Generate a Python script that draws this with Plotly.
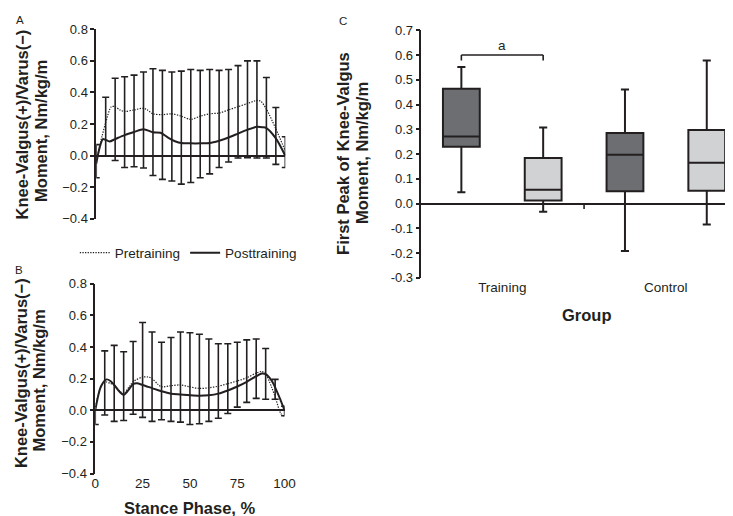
import plotly.graph_objects as go

W, H = 733, 516
INK = "#231f20"
FONT = "Liberation Sans, Arial, Helvetica, sans-serif"

# ---------------- Panel A (Training group) ----------------
a_pre_x = [0, 3, 5, 8, 10, 12.5, 15, 20, 25, 27, 30, 35, 40, 45, 50, 55, 60, 65, 70, 75, 80, 85, 87, 90, 95, 100]
a_pre_y = [-0.03, 0.12, 0.21, 0.31, 0.31, 0.29, 0.28, 0.29, 0.30, 0.29, 0.265, 0.26, 0.265, 0.25, 0.23, 0.25,
           0.265, 0.27, 0.29, 0.31, 0.33, 0.35, 0.345, 0.295, 0.17, 0.03]
a_post_x = [0, 2, 3.5, 5, 7, 10, 15, 20, 25, 30, 34, 38, 42, 45, 50, 55, 60, 65, 70, 75, 80, 85, 88, 90, 95, 100]
a_post_y = [-0.05, 0.06, 0.105, 0.10, 0.09, 0.105, 0.13, 0.15, 0.168, 0.148, 0.145, 0.115, 0.09, 0.08, 0.078,
            0.078, 0.08, 0.095, 0.115, 0.14, 0.165, 0.183, 0.18, 0.175, 0.11, 0.0]

bar_x = [0, 5, 10, 15, 20, 25, 30, 35, 40, 45, 50, 55, 60, 65, 70, 75, 80, 85, 90, 95, 100]
a_upper = [0.07, 0.37, 0.49, 0.50, 0.51, 0.53, 0.55, 0.54, 0.53, 0.535, 0.545, 0.54, 0.545, 0.54, 0.545,
           0.57, 0.60, 0.60, 0.495, 0.305, 0.12]
a_lower = [-0.14, 0.0, -0.03, -0.075, -0.07, -0.078, -0.125, -0.15, -0.16, -0.18, -0.17, -0.14, -0.115,
           -0.075, -0.04, -0.015, -0.012, -0.015, -0.015, -0.055, -0.075]

# ---------------- Panel B (Control group) ----------------
b_pre_x = [0, 3, 5, 8, 10, 13, 15, 18, 20, 25, 28, 30, 33, 35, 40, 45, 50, 55, 60, 65, 70, 75, 80, 85, 88, 90,
           93, 95, 98, 100]
b_pre_y = [0.02, 0.15, 0.18, 0.17, 0.16, 0.12, 0.105, 0.15, 0.18, 0.21, 0.21, 0.20, 0.165, 0.148, 0.155, 0.16,
           0.148, 0.138, 0.142, 0.152, 0.168, 0.185, 0.205, 0.235, 0.245, 0.23, 0.15, 0.085, -0.02, -0.04]
b_post_x = [0, 3, 6, 8, 10, 13, 15, 17, 20, 22, 25, 30, 35, 40, 45, 50, 55, 60, 65, 70, 75, 80, 85, 88, 90, 93,
            95, 98, 100]
b_post_y = [0.0, 0.15, 0.195, 0.185, 0.16, 0.115, 0.097, 0.12, 0.165, 0.17, 0.16, 0.14, 0.12, 0.105, 0.10,
            0.095, 0.092, 0.095, 0.105, 0.125, 0.15, 0.18, 0.215, 0.232, 0.228, 0.19, 0.145, 0.06, 0.0]
b_upper = [0.0, 0.375, 0.41, 0.37, 0.435, 0.555, 0.495, 0.43, 0.46, 0.495, 0.49, 0.48, 0.45, 0.42, 0.42,
           0.43, 0.445, 0.45, 0.39, 0.195, 0.025]
b_lower = [-0.09, -0.03, -0.07, -0.065, -0.025, -0.045, -0.07, -0.06, -0.07, -0.075, -0.09, -0.085, -0.07,
           -0.05, -0.02, 0.02, 0.05, 0.075, 0.07, 0.07, -0.035]

# ---------------- Panel C (box plot) ----------------
groups = ["Training", "Control"]
pre_low = [0.046, -0.192]
pre_q1 = [0.229, 0.050]
pre_med = [0.271, 0.197]
pre_q3 = [0.464, 0.285]
pre_high = [0.552, 0.461]
post_low = [-0.033, -0.085]
post_q1 = [0.012, 0.052]
post_med = [0.056, 0.165]
post_q3 = [0.184, 0.297]
post_high = [0.307, 0.578]

moment_ticks = [-0.4, -0.2, 0.0, 0.2, 0.4, 0.6, 0.8]
peak_ticks = [-0.3, -0.2, -0.1, 0.0, 0.1, 0.2, 0.3, 0.4, 0.5, 0.6, 0.7]
peak_ticktext = ["-0.3", "-0.2", "-0.1", "0.0", "0.1", "0.2", "0.3", "0.4", "0.5", "0.6", "0.7"]
stance_ticks = [0, 25, 50, 75, 100]


def fx(p):
    return p / W


def fy(p):
    return 1 - p / H


fig = go.Figure()
DOT = "1.3px,1.3px"


def add_panel(xa, ya, pre_x, pre_y, post_x, post_y, upper, lower, legend):
    fig.add_trace(go.Scatter(
        x=bar_x, y=upper, mode="markers", marker=dict(size=0.1, color="rgba(0,0,0,0)"),
        error_y=dict(type="data", symmetric=False, array=[0] * len(upper),
                     arrayminus=[u - l for u, l in zip(upper, lower)],
                     color=INK, thickness=1.6, width=3.5),
        xaxis=xa, yaxis=ya, showlegend=False, hoverinfo="skip", cliponaxis=False))
    fig.add_trace(go.Scatter(
        x=pre_x, y=pre_y, mode="lines", name="Pretraining",
        line=dict(color=INK, width=1.2, dash=DOT, shape="spline", smoothing=0.8),
        xaxis=xa, yaxis=ya, showlegend=legend, cliponaxis=False))
    fig.add_trace(go.Scatter(
        x=post_x, y=post_y, mode="lines", name="Posttraining",
        line=dict(color=INK, width=2, shape="spline", smoothing=0.8),
        xaxis=xa, yaxis=ya, showlegend=legend, cliponaxis=False))


add_panel("x", "y", a_pre_x, a_pre_y, a_post_x, a_post_y, a_upper, a_lower, True)
add_panel("x2", "y2", b_pre_x, b_pre_y, b_post_x, b_post_y, b_upper, b_lower, False)

fig.add_trace(go.Box(
    x=groups, q1=pre_q1, median=pre_med, q3=pre_q3, lowerfence=pre_low, upperfence=pre_high,
    fillcolor="#6d6e71", line=dict(color=INK, width=2), whiskerwidth=0.22,
    xaxis="x3", yaxis="y3", showlegend=False, name="Pretraining", boxpoints=False, offsetgroup="pre"))
fig.add_trace(go.Box(
    x=groups, q1=post_q1, median=post_med, q3=post_q3, lowerfence=post_low, upperfence=post_high,
    fillcolor="#d1d2d4", line=dict(color=INK, width=2), whiskerwidth=0.22,
    xaxis="x3", yaxis="y3", showlegend=False, name="Posttraining", boxpoints=False, offsetgroup="post"))

tickfont = dict(family=FONT, size=13, color=INK)
yax_common = dict(
    range=[-0.4, 0.8], tickvals=moment_ticks, tickformat=".1f", showline=True, linecolor=INK, linewidth=1.5,
    ticks="outside", ticklen=4, tickwidth=1.5, tickcolor=INK, zeroline=True, zerolinecolor=INK,
    zerolinewidth=1.8, showgrid=False, tickfont=tickfont)

fig.update_layout(
    width=W, height=H, margin=dict(l=0, r=0, t=0, b=0),
    paper_bgcolor="white", plot_bgcolor="white",
    font=dict(family=FONT, color=INK, size=13),
    boxmode="group", boxgap=0, boxgroupgap=0.55,
    xaxis=dict(domain=[fx(86), fx(279)], range=[0, 100], anchor="y", showticklabels=False, showline=False,
               showgrid=False, zeroline=False, ticks=""),
    yaxis=dict(domain=[fy(210), fy(14.7)], anchor="x", **yax_common),
    xaxis2=dict(domain=[fx(85), fx(278.3)], range=[0, 100], anchor="y2", tickvals=stance_ticks,
                showline=False, showgrid=False, zeroline=False, ticks="",
                tickfont=dict(family=FONT, size=13.5, color=INK)),
    yaxis2=dict(domain=[fy(472.3), fy(276.7)], anchor="x2", **yax_common),
    xaxis3=dict(domain=[fx(418), 1.0], range=[-0.494, 1.392], anchor="y3", type="category", showline=False,
                showgrid=False, zeroline=False, ticks="",
                tickfont=dict(family=FONT, size=13.5, color=INK)),
    yaxis3=dict(domain=[fy(270.7), fy(15.7)], range=[-0.3, 0.7], anchor="x3", tickvals=peak_ticks,
                ticktext=peak_ticktext, showline=True, linecolor=INK, linewidth=1.5, ticks="outside",
                ticklen=4, tickwidth=1.5, tickcolor=INK, zeroline=True, zerolinecolor=INK,
                zerolinewidth=1.5, showgrid=False, tickfont=tickfont),
    legend=dict(orientation="h", x=fx(180), xanchor="center", y=fy(245), yanchor="middle",
                font=dict(family=FONT, size=13.5, color=INK), itemwidth=30, bgcolor="rgba(0,0,0,0)",
                tracegroupgap=0),
    showlegend=True,
)

# significance bracket in panel C
for (x0, y0, x1, y1) in [(-0.25, 0.6, 0.25, 0.6), (-0.25, 0.578, -0.25, 0.6), (0.25, 0.578, 0.25, 0.6),
                         (0.5, 0.0, 0.5, -0.022)]:
    fig.add_shape(type="line", xref="x3", yref="y3", x0=x0, y0=y0, x1=x1, y1=y1,
                  line=dict(color=INK, width=1.6))
fig.add_annotation(x=0, y=0.64, xref="x3", yref="y3", text="a", showarrow=False,
                   font=dict(family=FONT, size=13.5, color=INK))

title_font = dict(family=FONT, size=16.5, color=INK)


def ann(x, y, text, size=None, bold=False, angle=0):
    f = dict(title_font) if bold else dict(family=FONT, size=size or 13, color=INK)
    fig.add_annotation(x=fx(x), y=fy(y), xref="paper", yref="paper", text=f"<b>{text}</b>" if bold else text,
                       showarrow=False, textangle=angle, font=f, xanchor="center", yanchor="middle")


ann(10, 113, "Knee-Valgus(+)/Varus(−)", bold=True, angle=-90)
ann(29, 119, "Moment, Nm/kg/m", bold=True, angle=-90)
ann(9, 369, "Knee-Valgus(+)/Varus(−)", bold=True, angle=-90)
ann(28, 376, "Moment, Nm/kg/m", bold=True, angle=-90)
ann(338.5, 142.5, "First Peak of Knee-Valgus", bold=True, angle=-90)
ann(358, 142.5, "Moment, Nm/kg/m", bold=True, angle=-90)
ann(181.7, 508, "Stance Phase, %", bold=True)
ann(586.7, 309, "Group", bold=True)
ann(8.5, 5.5, "A", size=11.5)
ann(7.5, 263, "B", size=11.5)
ann(338, 6, "C", size=11.5)

fig.write_html("out.html")
